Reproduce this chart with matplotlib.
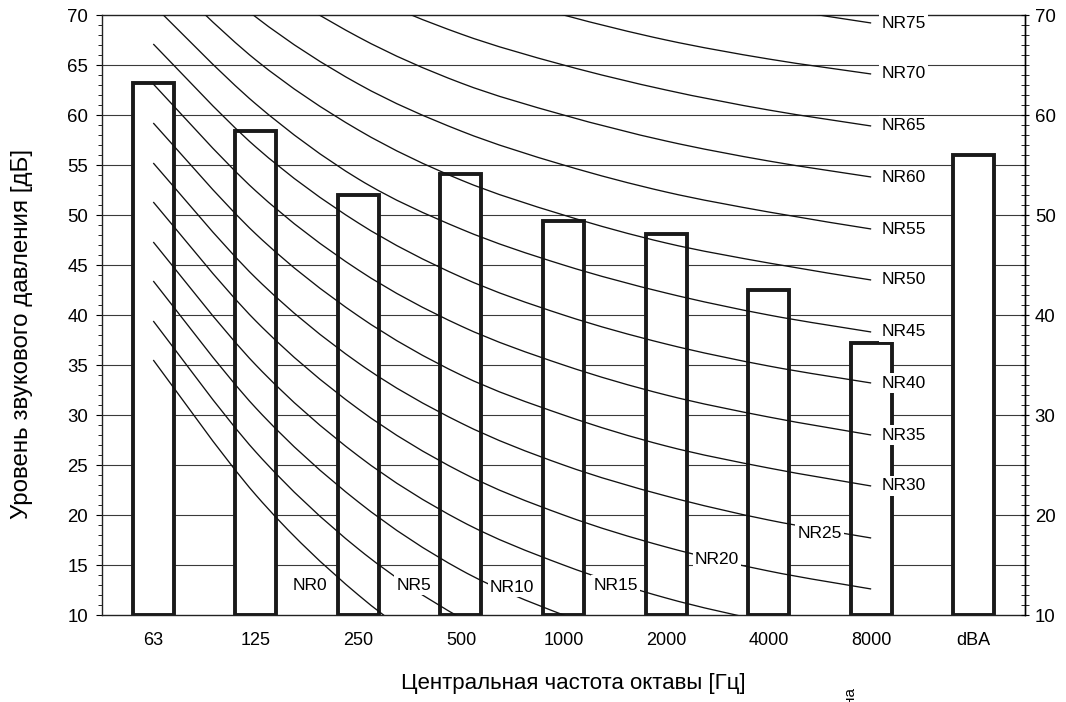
import matplotlib
matplotlib.use("Agg")
import matplotlib.pyplot as plt
from matplotlib.path import Path
from matplotlib.patches import PathPatch
from matplotlib.ticker import MultipleLocator
import numpy as np

plt.rcParams['font.family'] = ['Liberation Sans', 'DejaVu Sans']

# ---------------- data ----------------
band_labels = ['63', '125', '250', '500', '1000', '2000', '4000', '8000', 'dBA']
levels = [63.2, 58.4, 52.0, 54.1, 49.4, 48.1, 42.5, 37.2, 56.0]

# NR curves, values at 63 ... 8000 Hz
NR0 = [35.5, 22.0, 12.0, 4.8, 0.0, -3.5, -6.1, -8.0]
NR5 = [39.4, 26.3, 16.6, 9.7, 5.0, 1.6, -1.0, -2.8]
NR10 = [43.4, 30.7, 21.3, 14.5, 10.0, 6.6, 4.2, 2.3]
NR15 = [47.3, 35.0, 25.9, 19.4, 15.0, 11.7, 9.3, 7.4]
NR20 = [51.3, 39.4, 30.6, 24.3, 20.0, 16.8, 14.4, 12.6]
NR25 = [55.2, 43.7, 35.2, 29.2, 25.0, 21.9, 19.5, 17.7]
NR30 = [59.2, 48.1, 39.9, 34.0, 30.0, 26.9, 24.7, 22.9]
NR35 = [63.1, 52.4, 44.5, 38.9, 35.0, 32.0, 29.8, 28.0]
NR40 = [67.1, 56.8, 49.2, 43.8, 40.0, 37.1, 34.9, 33.2]
NR45 = [71.0, 61.1, 53.6, 48.6, 45.0, 42.2, 40.0, 38.3]
NR50 = [75.0, 65.5, 58.5, 53.5, 50.0, 47.2, 45.2, 43.5]
NR55 = [78.9, 69.8, 63.1, 58.4, 55.0, 52.3, 50.3, 48.6]
NR60 = [82.9, 74.2, 67.8, 63.2, 60.0, 57.4, 55.4, 53.8]
NR65 = [86.8, 78.5, 72.4, 68.1, 65.0, 62.5, 60.5, 58.9]
NR70 = [90.8, 82.9, 77.1, 73.0, 70.0, 67.5, 65.6, 64.1]
NR75 = [94.7, 87.2, 81.7, 77.9, 75.0, 72.6, 70.8, 69.2]
nr_names = ['NR0', 'NR5', 'NR10', 'NR15', 'NR20', 'NR25', 'NR30', 'NR35',
            'NR40', 'NR45', 'NR50', 'NR55', 'NR60', 'NR65', 'NR70', 'NR75']
nr_curves = [NR0, NR5, NR10, NR15, NR20, NR25, NR30, NR35,
             NR40, NR45, NR50, NR55, NR60, NR65, NR70, NR75]

xlabel = 'Центральная частота октавы [Гц]'
ylabel = 'Уровень звукового давления [дБ]'

# ---------------- layout ----------------
W, H = 1066, 702
fig = plt.figure(figsize=(W / 100, H / 100), dpi=100)
ax = fig.add_axes([102 / W, 1 - 615 / H, (1025 - 102) / W, 600 / H])
x = np.arange(len(band_labels))
ax.set_xlim(-0.5, len(band_labels) - 0.5)
ax.set_ylim(10, 70)

# grid
for g in range(15, 70, 5):
    ax.axhline(g, color='#3a3a3a', lw=0.8, zorder=1)

# bars
ax.bar(x, np.array(levels) - 10, bottom=10, width=0.4, facecolor='white',
       edgecolor='#1a1a1a', linewidth=2.8, zorder=2)


def smooth_path(xs, ys):
    pts = np.column_stack([xs, ys]).astype(float)
    n = len(pts)
    verts = [pts[0]]
    codes = [Path.MOVETO]
    for i in range(n - 1):
        p0 = pts[i - 1] if i > 0 else pts[i]
        p1 = pts[i]
        p2 = pts[i + 1]
        p3 = pts[i + 2] if i + 2 < n else pts[i + 1]
        c1 = p1 + (p2 - p0) / 6.0
        c2 = p2 - (p3 - p1) / 6.0
        verts += [c1, c2, p2]
        codes += [Path.CURVE4] * 3
    return Path(verts, codes)


xc = np.arange(len(NR0))
for vals in nr_curves:
    patch = PathPatch(smooth_path(xc, vals), fill=False, edgecolor='#111111',
                      lw=0.95, zorder=3)
    ax.add_patch(patch)

# NR labels
lab_kw = dict(fontsize=12.5, ha='left', va='center', zorder=5,
              bbox=dict(facecolor='white', edgecolor='none', pad=1.5))
low_pos = {'NR0': (1.36, 13.0), 'NR5': (2.37, 13.0), 'NR10': (3.28, 12.8),
           'NR15': (4.29, 13.0), 'NR20': (5.28, 15.5), 'NR25': (6.28, 18.2)}
for name, vals in zip(nr_names, nr_curves):
    if name in low_pos:
        px, py = low_pos[name]
    else:
        px, py = 7.1, vals[-1]
    ax.text(px, py, name, **lab_kw)

# axes styling
for s in ax.spines.values():
    s.set_color('#222222')
    s.set_linewidth(1.0)
ax.set_xticks(x)
ax.set_xticklabels(band_labels, fontsize=13)
ax.tick_params(axis='x', length=0, pad=12)
ax.yaxis.set_major_locator(MultipleLocator(5))
ax.yaxis.set_minor_locator(MultipleLocator(1))
ax.tick_params(axis='y', which='major', length=4, width=0.8, labelsize=13.4, pad=6)
ax.tick_params(axis='y', which='minor', length=3, width=0.6)

ax2 = ax.twinx()
ax2.set_ylim(10, 70)
ax2.yaxis.set_major_locator(MultipleLocator(10))
ax2.yaxis.set_minor_locator(MultipleLocator(1))
ax2.tick_params(axis='y', which='major', direction='inout', length=6, width=0.8,
                labelsize=13.4, pad=4)
ax2.tick_params(axis='y', which='minor', direction='inout', length=6, width=0.6)
for s in ax2.spines.values():
    s.set_visible(False)
ax2.spines['right'].set_visible(True)
ax2.spines['right'].set_linewidth(1.0)

fig.text(573 / W, 1 - 683 / H, xlabel, fontsize=16, ha='center', va='center')
fig.text(22 / W, 1 - 334 / H, ylabel, fontsize=17.4, ha='center', va='center',
         rotation=90)
fig.text(850 / W, 1 - 704 / H, 'на', fontsize=11, ha='center', va='bottom',
         rotation=90)

fig.savefig('out.png', dpi=100)
